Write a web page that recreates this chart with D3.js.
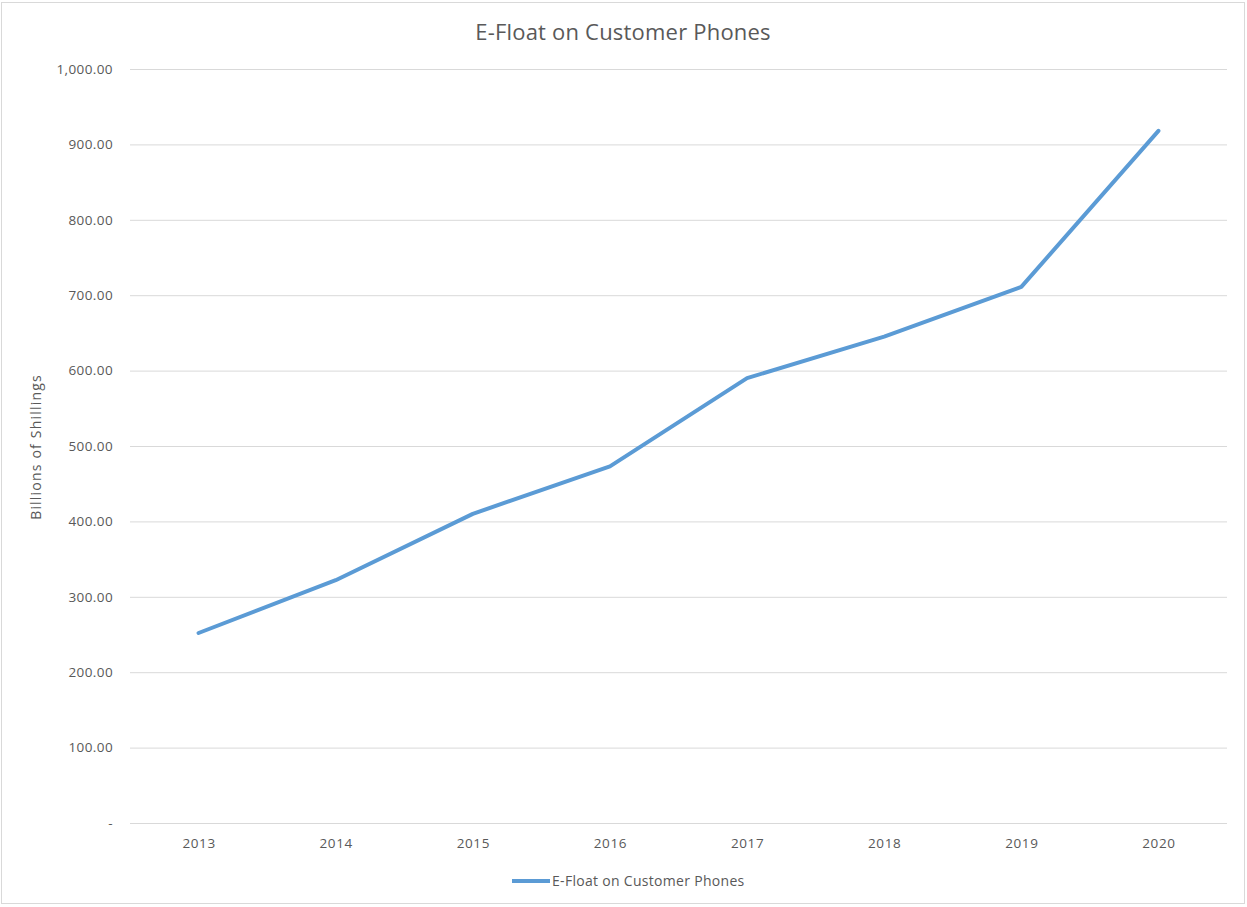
<!DOCTYPE html>
<html>
<head>
<meta charset="utf-8">
<script src="https://cdn.jsdelivr.net/npm/d3@7"></script>
<style>
body { margin: 0; background: #fff; }
text { font-family: "Open Sans", "Noto Sans", sans-serif; fill: #595959; }
</style>
</head>
<body>
<script>
const years = ["2013", "2014", "2015", "2016", "2017", "2018", "2019", "2020"];
const efloat = [252, 322, 410, 473, 590, 645, 711, 918];
const yTicks = [0, 100, 200, 300, 400, 500, 600, 700, 800, 900, 1000];

const width = 1247, height = 907;
const margin = {top: 69, right: 20, bottom: 84, left: 130};

const svg = d3.select("body").append("svg")
	.attr("width", width)
	.attr("height", height);

// outer chart border
svg.append("rect")
	.attr("x", 1.5).attr("y", 2.5)
	.attr("width", width - 4).attr("height", height - 6)
	.attr("fill", "#fff")
	.attr("stroke", "#d9d9d9");

const x = d3.scalePoint()
	.domain(years)
	.range([margin.left, width - margin.right])
	.padding(0.5);

const y = d3.scaleLinear()
	.domain([0, 1000])
	.range([height - margin.bottom, margin.top]);

// gridlines
svg.append("g")
	.selectAll("line")
	.data(yTicks)
	.join("line")
	.attr("x1", margin.left)
	.attr("x2", width - margin.right)
	.attr("y1", d => y(d) + 0.5)
	.attr("y2", d => y(d) + 0.5)
	.attr("stroke", "#d9d9d9")
	.attr("stroke-width", 1);

const fmt = d3.format(",.2f");
const yAxis = svg.append("g")
	.attr("transform", `translate(${margin.left - 17},0)`)
	.call(d3.axisLeft(y).tickValues(yTicks).tickSize(0).tickPadding(0)
		.tickFormat(d => d === 0 ? "-" : fmt(d)));
yAxis.select(".domain").remove();
yAxis.selectAll("text").attr("font-size", 13.5).attr("letter-spacing", 0.4).style("fill", "#595959");

const xAxis = svg.append("g")
	.attr("transform", `translate(0,${height - margin.bottom})`)
	.call(d3.axisBottom(x).tickSize(0).tickPadding(15));
xAxis.select(".domain").remove();
xAxis.selectAll("text").attr("font-size", 13.5).attr("letter-spacing", 0.6).style("fill", "#595959");

// title
svg.append("text")
	.attr("x", 623)
	.attr("y", 40)
	.attr("text-anchor", "middle")
	.attr("font-size", 22)
	.attr("letter-spacing", 0.2)
	.text("E-Float on Customer Phones");

// y axis label
svg.append("text")
	.attr("transform", `translate(41,${(margin.top + height - margin.bottom) / 2 + 1}) rotate(-90)`)
	.attr("text-anchor", "middle")
	.attr("font-size", 14)
	.attr("letter-spacing", 1.2)
	.text("Billions of Shillings");

const line = d3.line()
	.x((d, i) => x(years[i]))
	.y(d => y(d));

svg.append("path")
	.datum(efloat)
	.attr("fill", "none")
	.attr("stroke", "#5b9bd5")
	.attr("stroke-width", 4)
	.attr("stroke-linejoin", "round")
	.attr("stroke-linecap", "round")
	.attr("d", line);

// legend
const lg = svg.append("g").attr("transform", "translate(512,881)");
lg.append("line")
	.attr("x1", 0).attr("x2", 38)
	.attr("stroke", "#5b9bd5")
	.attr("stroke-width", 4);
lg.append("text")
	.attr("x", 40)
	.attr("y", 5)
	.attr("font-size", 14)
	.attr("letter-spacing", 0.3)
	.text("E-Float on Customer Phones");
</script>
</body>
</html>
